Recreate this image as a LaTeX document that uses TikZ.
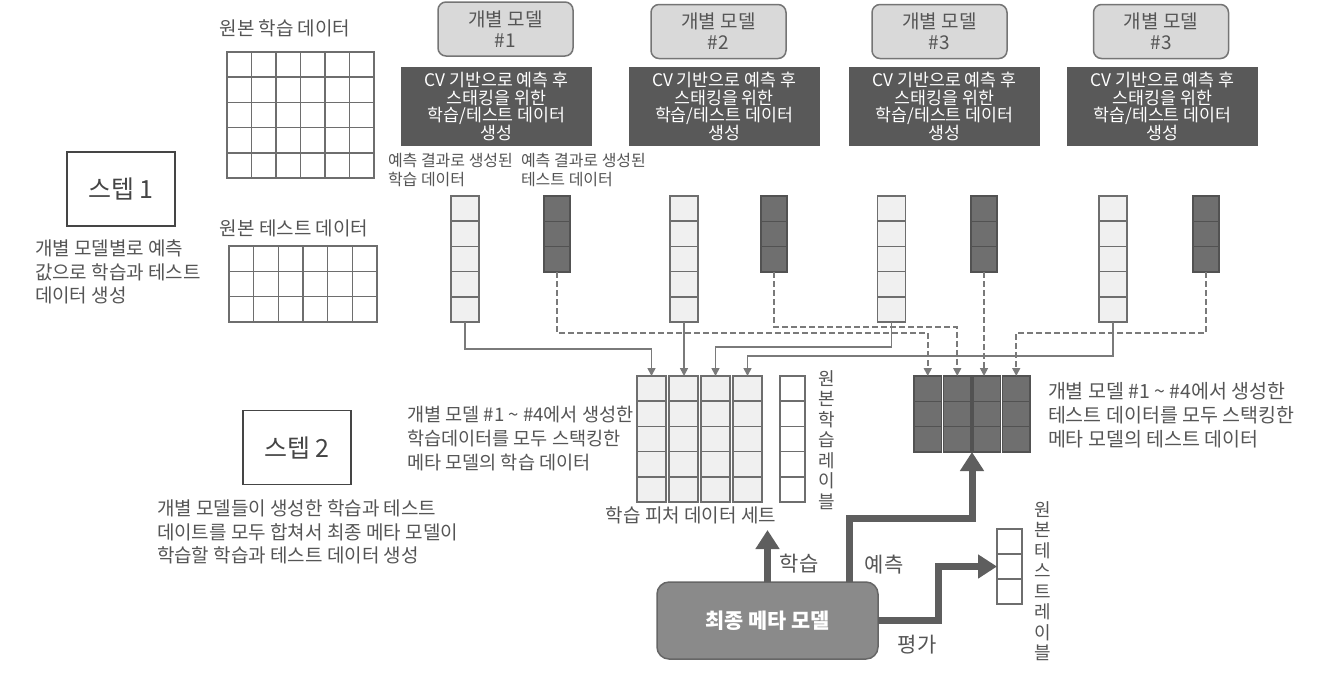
\documentclass[tikz,border=0pt]{standalone}
\usepackage{fontspec}
\setmainfont{Noto Sans CJK KR}
\usetikzlibrary{positioning,calc,arrows.meta}
\definecolor{inkgray}{HTML}{555555}
\definecolor{steptext}{HTML}{454545}
\definecolor{modelfill}{HTML}{D9D9D9}
\definecolor{modelline}{HTML}{757575}
\definecolor{cvdark}{HTML}{595959}
\definecolor{cellline}{HTML}{6E6E6E}
\definecolor{trainfill}{HTML}{F0F0F0}
\definecolor{testfill}{HTML}{6F6F6F}
\definecolor{testline}{HTML}{525252}
\definecolor{metafill}{HTML}{8A8A8A}
\definecolor{metaline}{HTML}{666666}
\definecolor{linkgray}{HTML}{7A7A7A}
\definecolor{fatgray}{HTML}{5E5E5E}

\begin{document}
\begin{tikzpicture}[x=1pt,y=-1pt,>={Triangle[length=8pt,width=8pt]},node distance=32pt,on grid,
    every node/.style={inner sep=0pt,outer sep=0pt,text=inkgray},
    model/.style={draw=modelline,fill=modelfill,rounded corners=8pt,line width=1.5pt,minimum width=135pt,minimum height=54pt,align=center,font=\fontsize{19}{21}\selectfont},
    cvbox/.style={fill=cvdark,text=white,minimum width=191pt,minimum height=79pt,align=center,font=\fontsize{17.3}{17.6}\selectfont},
    trcol/.style={draw=cellline,fill=trainfill,line width=1.5pt,minimum width=28pt,minimum height=126pt},
    tecol/.style={draw=testline,fill=testfill,line width=1.5pt,minimum width=26pt,minimum height=76pt},
    desc/.style={align=left,anchor=west,font=\fontsize{19}{23.5}\selectfont},
    annot/.style={align=left,anchor=west,font=\fontsize{16}{19}\selectfont},
    stepbox/.style={draw=steptext,line width=1.5pt,minimum width=108pt,minimum height=74pt,text=steptext,font=\fontsize{25}{28}\selectfont},
    vlabel/.style={align=center,font=\fontsize{18}{20.5}\selectfont},
    title/.style={font=\fontsize{19}{22}\selectfont},
    cellrule/.style={draw=cellline,line width=1.5pt},
    link/.style={->,draw=linkgray,line width=1.6pt},
    dlink/.style={link,dash pattern=on 6pt off 3pt},
    fat/.style={draw=fatgray,line width=7pt,-{Triangle[length=19pt,width=23pt]}}]
    \useasboundingbox[fill=white] (0,0) rectangle (1327,678);

    % original data
    \node[title] (trtitle) at (285,28) {원본 학습 데이터};
    \node[title] (tetitle) at (294,228) {원본 테스트 데이터};
    \draw[cellrule] (227,52) rectangle (374,178);
    \foreach \k in {1,...,5} \draw[cellrule] ({227+24.5*\k},52) -- ++(0,126);
    \foreach \k in {1,...,4} \draw[cellrule] (227,{52+25.2*\k}) -- ++(147,0);
    \draw[cellrule] (229,246) rectangle (377,322);
    \foreach \k in {1,...,5} \draw[cellrule] ({229+24.67*\k},246) -- ++(0,76);
    \foreach \k in {1,2} \draw[cellrule] (229,{246+25.33*\k}) -- ++(148,0);

    % steps
    \node[stepbox] (step1) at (121,189) {스텝 1};
    \node[desc] (step1txt) at (35,272) {개별 모델별로 예측\\값으로 학습과 테스트\\데이터 생성};
    \node[stepbox] (step2) at (297,447.5) {스텝 2};
    \node[desc] (step2txt) at (157,532) {개별 모델들이 생성한 학습과 테스트\\데이트를 모두 합쳐서 최종 메타 모델이\\학습할 학습과 테스트 데이터 생성};

    % individual models
    \node[model] (m1) at (505.5,29) {개별 모델\\\#1};
    \node[model] (m2) at (718.5,31.5) {개별 모델\\\#2};
    \node[model] (m3) at (939.5,31.5) {개별 모델\\\#3};
    \node[model] (m4) at (1161,31.5) {개별 모델\\\#3};
    \foreach \i/\x in {1/496.5,2/724,3/944.5,4/1162.5}
      \node[cvbox] (cv\i) at (\x,106.5) {CV 기반으로 예측 후\\스태킹을 위한\\학습/테스트 데이터\\생성};
    \node[annot] (annotr) at (388,170) {예측 결과로 생성된\\학습 데이터};
    \node[annot] (annote) at (521,170) {예측 결과로 생성된\\테스트 데이터};

    % predicted columns
    \foreach \i/\x/\y in {1/465/557,2/684/774,3/891.5/984,4/1113/1206} {
      \node[trcol] (tr\i) at (\x,259) {};
      \node[tecol] (te\i) at (\y,234) {};
    }

    % stacked meta data
    \node[trcol,minimum width=29pt] (mt1) at (651.5,439) {};
    \node[trcol,minimum width=29pt] (mt2) [right=of mt1] {};
    \node[trcol,minimum width=29pt] (mt3) [right=of mt2] {};
    \node[trcol,minimum width=29pt] (mt4) [right=of mt3] {};
    \node[trcol,fill=white,minimum width=25pt] (lb) at (792.5,439) {};
    \node[vlabel] (lbtxt) at (827,440) {원\\본\\학\\습\\레\\이\\블};
    \node[title] (feat) at (691,515) {학습 피처 데이터 세트};
    \node[desc,font=\fontsize{18.6}{24}\selectfont] (mtdesc) at (407,439) {개별 모델 \#1 \textasciitilde{} \#4에서 생성한\\학습데이터를 모두 스택킹한\\메타 모델의 학습 데이터};

    \node[tecol,minimum width=27.5pt] (mk1) at (927.75,414) {};
    \node[tecol,minimum width=27.5pt] (mk2) [right=29.5pt of mk1] {};
    \node[tecol,minimum width=27.5pt] (mk3) [right=29.5pt of mk2] {};
    \node[tecol,minimum width=27.5pt] (mk4) [right=29.5pt of mk3] {};
    \node[desc,font=\fontsize{19.5}{24}\selectfont] (mkdesc) at (1048,415) {개별 모델 \#1 \textasciitilde{} \#4에서 생성한\\테스트 데이터를 모두 스택킹한\\메타 모델의 테스트 데이터};

    \foreach \c in {tr1,tr2,tr3,tr4,mt1,mt2,mt3,mt4,lb}
      \foreach \k in {1,...,4}
        \draw[cellrule] ($(\c.north west)!\k/5!(\c.south west)$) -- ($(\c.north east)!\k/5!(\c.south east)$);
    \foreach \c in {te1,te2,te3,te4,mk1,mk2,mk3,mk4}
      \foreach \k in {1,2}
        \draw[cellrule,draw=testline] ($(\c.north west)!\k/3!(\c.south west)$) -- ($(\c.north east)!\k/3!(\c.south east)$);

    % final meta model
    \node[fill=metafill,draw=metaline,line width=1.5pt,rounded corners=12pt,minimum width=221pt,minimum height=77pt,text=white,font=\bfseries\fontsize{20.8}{24}\selectfont] (meta) at (767.5,620.5) {최종 메타 모델};
    \node[trcol,fill=white,minimum width=25pt,minimum height=75pt] (tl) at (1009.5,566.5) {};
    \foreach \k in {1,2}
      \draw[cellrule] ($(tl.north west)!\k/3!(tl.south west)$) -- ($(tl.north east)!\k/3!(tl.south east)$);
    \node[vlabel] (tltxt) at (1043,581) {원\\본\\테\\스\\트\\레\\이\\블};

    % connectors
    \draw[link] (tr1.south) -- ++(0,27) -| (mt1.north);
    \draw[link] (tr2.south) -- (tr2.south |- mt2.north);
    \draw[link] (tr3.south) -- ++(0,25) -| (mt3.north);
    \draw[link] (tr4.south) -- ++(0,34) -| (mt4.north);
    \draw[dlink] (te1.south) -- ++(0,61) -| (mk1.north);
    \draw[dlink] (te2.south) -- ++(0,55) -| (mk2.north);
    \draw[dlink] (te3.south) -- (te3.south |- mk3.north);
    \draw[dlink] (te4.south) -- ++(0,61) -| (mk4.north);

    \draw[fat] (meta.north) -- ++(0,-52);
    \draw[fat] ([xshift=81.5pt]meta.north) -- ++(0,-64) -| ($(mk2.south east)!.5!(mk3.south west)$);
    \draw[fat] (meta.east) -- ++(60,0) |- (tl.west);
    \node[font=\fontsize{21}{24}\selectfont] (learn) at (799,564) {학습};
    \node[font=\fontsize{21}{24}\selectfont] (pred) at (884,565) {예측};
    \node[font=\fontsize{21}{24}\selectfont] (eval) at (917,645) {평가};
\end{tikzpicture}
\end{document}
